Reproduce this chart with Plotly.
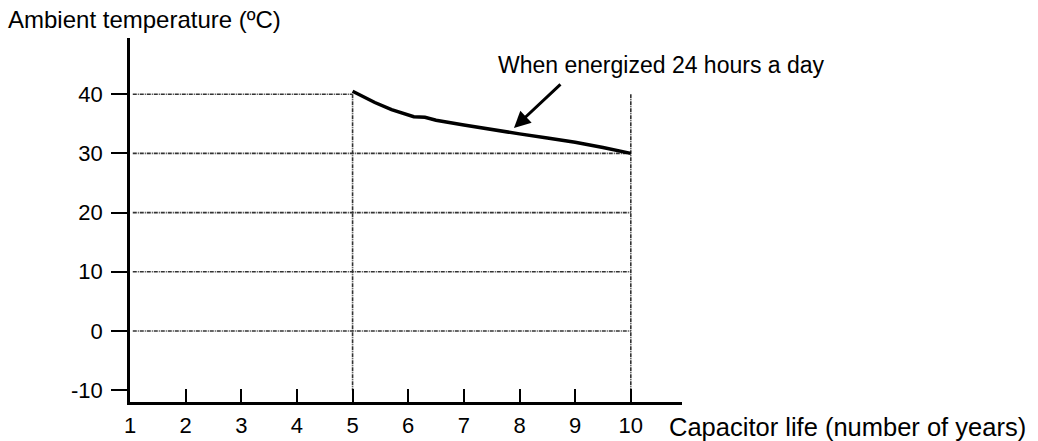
import plotly.graph_objects as go

# ---- data ----
life_years = [5, 5.4, 5.7, 6.1, 6.3, 6.5, 7, 7.5, 8, 8.5, 9, 9.5, 10]
ambient_temp = [40.5, 38.6, 37.4, 36.2, 36.1, 35.6, 34.8, 34.0, 33.3, 32.6, 31.9, 31.0, 30.0]
x_ticks = [1, 2, 3, 4, 5, 6, 7, 8, 9, 10]
y_ticks = [-10, 0, 10, 20, 30, 40]
ref_lines_full = [0, 10, 20, 30]   # horizontal refs to x=10
ref_line_short = 40                # horizontal ref to x=5
ref_verticals = [5, 10]
curve_label = "When energized 24 hours a day"
x_title = "Capacitor life (number of years)"
y_title = "Ambient temperature (ºC)"

FONT = "Liberation Sans, Arial, sans-serif"

fig = go.Figure()
fig.add_trace(go.Scatter(
    x=life_years, y=ambient_temp, mode="lines",
    line=dict(color="black", width=3.5), showlegend=False, hoverinfo="skip"))

grid_style = dict(color="#333333", width=1.6, dash="4px,1px,1px,1px")
shapes = []
for yv in ref_lines_full:
    shapes.append(dict(type="line", xref="x", yref="y", x0=x_ticks[0] + 0.05, x1=10,
                       y0=yv, y1=yv, line=grid_style, layer="below"))
shapes.append(dict(type="line", xref="x", yref="y", x0=x_ticks[0] + 0.05, x1=5,
                   y0=ref_line_short, y1=ref_line_short, line=grid_style, layer="below"))
for xv in ref_verticals:
    shapes.append(dict(type="line", xref="x", yref="y", x0=xv, x1=xv,
                       y0=40, y1=-10, line=grid_style, layer="below"))

fig.update_layout(
    width=1038, height=441,
    margin=dict(l=130, r=356, t=38, b=39),
    paper_bgcolor="white", plot_bgcolor="white",
    font=dict(family=FONT, size=22, color="black"),
    shapes=shapes,
    xaxis=dict(range=[1, 10.92], tickvals=x_ticks, ticktext=[str(v) for v in x_ticks],
               showline=True, linecolor="black", linewidth=2.5,
               ticks="inside", ticklen=13, tickwidth=2, tickcolor="black",
               showgrid=False, zeroline=False, ticklabelstandoff=2, automargin=False,
               tickfont=dict(family=FONT, size=22, color="black")),
    yaxis=dict(range=[-12, 49.5], tickvals=y_ticks, ticktext=[str(v) for v in y_ticks],
               showline=True, linecolor="black", linewidth=2.5,
               ticks="outside", ticklen=16, tickwidth=2, tickcolor="black",
               showgrid=False, zeroline=False, ticklabelstandoff=4, automargin=False,
               tickfont=dict(family=FONT, size=22, color="black")),
    annotations=[
        dict(text=y_title, xref="paper", yref="paper", x=-130/552, y=1 + 18/364,
             xanchor="left", yanchor="middle", showarrow=False, xshift=6,
             font=dict(family=FONT, size=24, color="black")),
        dict(text=x_title, xref="paper", yref="paper", x=1, y=0, xshift=-15, yshift=-25,
             xanchor="left", yanchor="middle", showarrow=False,
             font=dict(family=FONT, size=25.5, color="black")),
        dict(text=curve_label, xref="x", yref="y", x=10.55, y=44.9,
             xanchor="center", yanchor="middle", showarrow=False,
             font=dict(family=FONT, size=23, color="black")),
        dict(text="", xref="x", yref="y", x=7.9, y=34.3, ax=48, ay=-45,
             showarrow=True, arrowhead=2, arrowsize=1.1, arrowwidth=3, arrowcolor="black"),
    ],
)

fig.write_html("out.html", post_script="document.body.style.margin='0';",
               config={"displayModeBar": False})
